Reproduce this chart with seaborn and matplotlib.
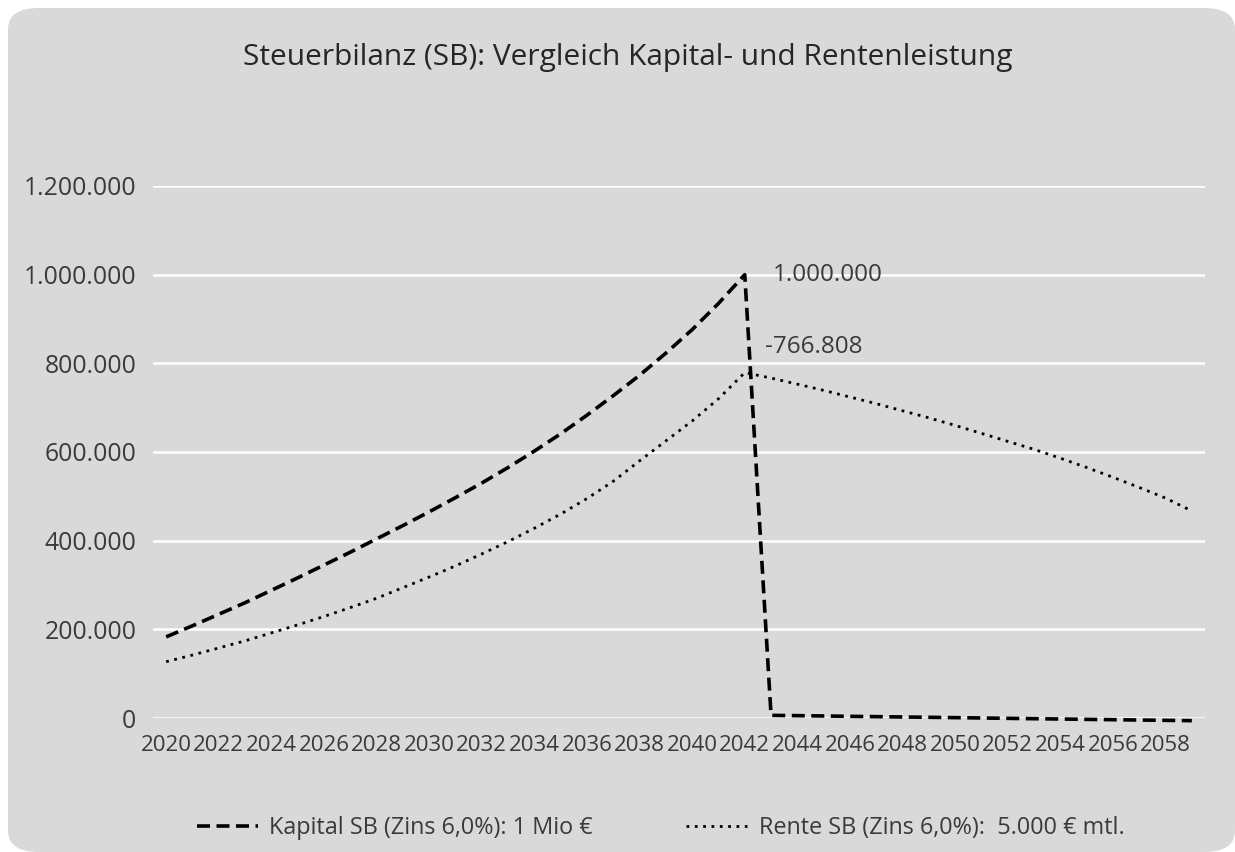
import numpy as np
import pandas as pd
import matplotlib
matplotlib.use("Agg")
import matplotlib.pyplot as plt
import seaborn as sns
from matplotlib.patches import FancyBboxPatch
from matplotlib.ticker import FuncFormatter

# ------------------------ Data ------------------------
jahre = list(range(2020, 2060))

kapital_sb = [183000, 208000, 234000, 260000, 288000, 316000, 345000, 374000,
              404000, 434000, 465000, 497000, 530000, 565000, 602000, 641000,
              683000, 727000, 773000, 823000, 876000, 935000, 1000000,
              6000, 5300, 4600, 3800, 3100, 2300, 1600, 800, 0,
              -800, -1600, -2300, -3100, -3800, -4600, -5300, -6000]

rente_sb = [127000, 142000, 158000, 174000, 192000, 210000, 229000, 249000,
            270000, 294000, 318000, 343000, 370000, 398000, 428000, 460000,
            495000, 534000, 580000, 625000, 670000, 720000, 779000,
            766808, 753000, 739000, 724000, 709000, 693000, 677000, 660000,
            642000, 624000, 606000, 586000, 565000, 543000, 520000, 496000, 467000]

label_kapital = "Kapital SB (Zins 6,0%): 1 Mio €"
label_rente = "Rente SB (Zins 6,0%):  5.000 € mtl."
titel = "Steuerbilanz (SB): Vergleich Kapital- und Rentenleistung"

df = pd.DataFrame({"Jahr": jahre, "Kapital": kapital_sb, "Rente": rente_sb})

# ------------------------ Style ------------------------
sns.set_theme(style="white")
plt.rcParams["font.family"] = ["Open Sans", "DejaVu Sans"]
textfarbe = "#3a3a3a"
grau = "#d9d9d9"

fig = plt.figure(figsize=(12.35, 8.52), dpi=100, facecolor="white")
bg = FancyBboxPatch((8 / 1235, 0), 1 - 8 / 1235, 1 - 8 / 852,
                    boxstyle="round,pad=0,rounding_size=0.025",
                    transform=fig.transFigure, facecolor=grau, edgecolor="none",
                    zorder=-10)
fig.patches.append(bg)

ax = fig.add_axes([153 / 1235, 1 - 718 / 852, (1205 - 153) / 1235, (718 - 186) / 852])
ax.set_facecolor(grau)

# ------------------------ Lines ------------------------
sns.lineplot(data=df, x="Jahr", y="Kapital", ax=ax, color="black", linewidth=2.6,
             label=label_kapital, clip_on=False)
sns.lineplot(data=df, x="Jahr", y="Rente", ax=ax, color="black", linewidth=2.0,
             label=label_rente, clip_on=False)
ax.lines[0].set_linestyle((0, (3.6, 1.8)))
ax.lines[1].set_linestyle((0, (1, 2)))

# ------------------------ Axes ------------------------
ax.set_xlim(2019.5, 2059.5)
ax.set_ylim(0, 1200000)
ax.set_xticks(list(range(2020, 2059, 2)))
ax.set_yticks(list(range(0, 1200001, 200000)))
ax.yaxis.set_major_formatter(FuncFormatter(lambda v, p: f"{int(v):,}".replace(",", ".")))
ax.tick_params(axis="x", labelsize=16, colors=textfarbe, length=0, pad=12)
ax.tick_params(axis="y", labelsize=17.8, colors=textfarbe, length=0, pad=12)
ax.grid(axis="y", color="white", linewidth=1.8)
ax.set_axisbelow(True)
for s in ax.spines.values():
    s.set_visible(False)
ax.set_xlabel("")
ax.set_ylabel("")

# ------------------------ Data labels ------------------------
ax.annotate("1.000.000", xy=(jahre[22], kapital_sb[22]), xytext=(20, 0),
            textcoords="offset points", ha="left", va="center",
            fontsize=17.5, color=textfarbe)
ax.annotate("-766.808", xy=(jahre[23], rente_sb[23]), xytext=(-4, 22),
            textcoords="offset points", ha="left", va="center",
            fontsize=17.5, color=textfarbe)

# ------------------------ Title / legend ------------------------
fig.text(0.508, 1 - 58 / 852, titel, ha="center", va="center",
         fontsize=21.5, color="#262626")

ax.legend(loc="center", bbox_to_anchor=(0.535, 1 - 828 / 852), bbox_transform=fig.transFigure,
          ncol=2, frameon=False, fontsize=16.8, labelcolor=textfarbe,
          handlelength=2.6, handletextpad=0.5, columnspacing=4.0)

fig.savefig("out.png", dpi=100, facecolor="white")
